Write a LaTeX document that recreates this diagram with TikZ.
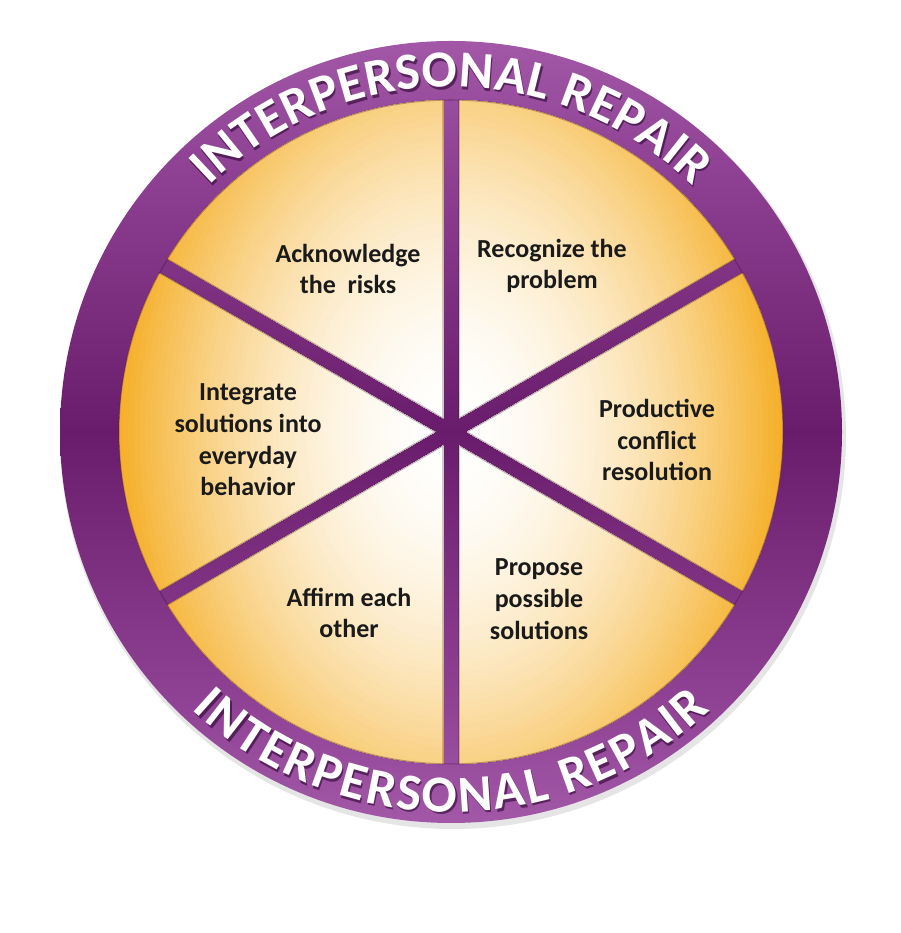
\documentclass[tikz,border=0pt]{standalone}
\usepackage{fontspec}
\setmainfont{Carlito}
\newfontfamily\ringfont{Carlito}
\usetikzlibrary{calc,decorations.text}
\definecolor{ringTop}{HTML}{A257A7}
\definecolor{ringMid}{HTML}{883A8C}
\definecolor{ringDark}{HTML}{6A1C6C}
\definecolor{sectOrange}{HTML}{F5AF28}
\definecolor{txt}{HTML}{1A1A1A}
\definecolor{ringShadow}{HTML}{2A0530}
\pgfdeclareverticalshading{ringshade}{100bp}{color(0bp)=(ringTop); color(25bp)=(ringTop); color(36bp)=(ringMid); color(50bp)=(ringDark); color(64bp)=(ringMid); color(75bp)=(ringTop); color(100bp)=(ringTop)}
\begin{document}
\begin{tikzpicture}[x=1pt,y=1pt,
  sectortext/.style={font=\fontsize{26}{31.7}\selectfont\bfseries, text=txt, align=center, inner sep=0pt},
  ringfmt/.style={decoration={text along path, text align={fit to path}, text color=#1,
    text={|\ringfont\fontsize{52}{52}\selectfont\bfseries|INTERPERSONAL REPAIR}}, decorate}]
\useasboundingbox (0,0) rectangle (900,933);
\fill[white] (0,0) rectangle (900,933);
\coordinate (c) at (451,501);
% drop shadow and ring
\fill[black, opacity=0.10] ($(c)+(2,-4)$) circle[radius=393];
\shade[shading=ringshade] (c) circle[radius=391];
% sectors
\begin{scope}
  \clip (c) circle[radius=332];
  \clip foreach \a in {30,90,150,210,270,330} {
    ($(c)+(\a+30:16)$) -- +(\a:520) -- +(\a+30:720) -- +(\a+60:520) -- cycle };
  \foreach \i in {60,...,1} {
    \pgfmathsetmacro\rr{\i/60}
    \pgfmathsetmacro\pp{100*\rr^1.9}
    \fill[sectOrange!\pp!white] (c) ellipse[x radius={334*\rr}, y radius={450*\rr}];
  }
\end{scope}
% subtle sector edge shading
\begin{scope}
  \clip (c) circle[radius=332.5];
  \draw[ringShadow, opacity=0.3, line width=1.2pt] (c) circle[radius=332];
  \foreach \a in {30,90,150,210,270,330} {
    \draw[ringShadow, opacity=0.3, line width=1.2pt]
      ($(c)+(\a+30:16)$) -- +(\a:520) +(0,0) -- +(\a+60:520); }
\end{scope}
% ring texts: shadows then white
\begin{scope}[opacity=0.6]
  \path[ringfmt=ringShadow] ($(c)+(134.5:345)+(1.5,-2.5)$) arc[start angle=134.5, end angle=45.5, radius=345];
  \path[ringfmt=ringShadow] ($(c)+(227:380)+(1.5,-2.5)$) arc[start angle=227, end angle=313, radius=380];
\end{scope}
\path[ringfmt=white] ($(c)+(134.5:345)$) arc[start angle=134.5, end angle=45.5, radius=345];
\path[ringfmt=white] ($(c)+(227:380)$) arc[start angle=227, end angle=313, radius=380];
% sector labels
\node[sectortext] (ack) at (348,664) {Acknowledge\\the\ \ risks};
\node[sectortext] (rec) at (552,667) {Recognize the\\problem};
\node[sectortext] (pro) at (657,493) {Productive\\conflict\\resolution};
\node[sectortext] (pps) at (539,334) {Propose\\possible\\solutions};
\node[sectortext] (aff) at (349,320) {Affirm each\\other};
\node[sectortext] (int) at (248,493) {Integrate\\solutions into\\everyday\\behavior};
\end{tikzpicture}
\end{document}
